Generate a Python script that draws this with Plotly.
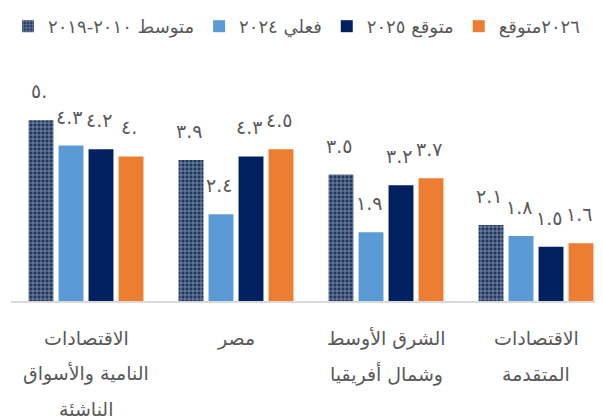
import plotly.graph_objects as go

# Categories (left to right)
categories = ["EMDE", "EGY", "MENA", "ADV"]
category_labels = [
    ["الاقتصادات", "النامية والأسواق", "الناشئة"],
    ["مصر"],
    ["الشرق الأوسط", "وشمال أفريقيا"],
    ["الاقتصادات", "المتقدمة"],
]

series_names = ["متوسط ٢٠١٠-٢٠١٩", "فعلي ٢٠٢٤", "متوقع ٢٠٢٥", "٢٠٢٦متوقع"]

avg_2010_2019 = [5.0, 3.9, 3.5, 2.1]
actual_2024 = [4.3, 2.4, 1.9, 1.8]
forecast_2025 = [4.2, 4.0, 3.2, 1.5]
forecast_2026 = [4.0, 4.2, 3.4, 1.6]

labels_avg = ["٥.", "٣.٩", "٣.٥", "٢.١"]
labels_2024 = ["٤.٣", "٢.٤", "١.٩", "١.٨"]
labels_2025 = ["٤.٢", "٤.٣", "٣.٢", "١.٥"]
labels_2026 = ["٤.", "٤.٥", "٣.٧", "١.٦"]

series_values = [avg_2010_2019, actual_2024, forecast_2025, forecast_2026]
series_labels = [labels_avg, labels_2024, labels_2025, labels_2026]

W, H = 603, 419
M_L, M_R, M_T, M_B = 3, 0, 60, 126
BARGAP = 0.2
BARGROUPGAP = 0.17
Y_MAX = 6.42
TXT = "#595959"
FONT = "DejaVu Sans"

fig = go.Figure()
fig.add_trace(go.Bar(
    x=categories, y=avg_2010_2019, name=series_names[0],
    marker=dict(color="#1F3763", line=dict(width=0),
                pattern=dict(shape="+", fgcolor="white", bgcolor="#1F3763",
                             size=4, solidity=0.35, fillmode="overlay")),
))
fig.add_trace(go.Bar(x=categories, y=actual_2024, name=series_names[1],
                     marker=dict(color="#5B9BD5", line=dict(width=0))))
fig.add_trace(go.Bar(x=categories, y=forecast_2025, name=series_names[2],
                     marker=dict(color="#002060", line=dict(width=0))))
fig.add_trace(go.Bar(x=categories, y=forecast_2026, name=series_names[3],
                     marker=dict(color="#ED7D31", line=dict(width=0))))

plot_w = W - M_L - M_R
cat_w = plot_w / len(categories)
slot = cat_w * (1 - BARGAP) / len(series_values)

annotations = []
for si, (vals, labs) in enumerate(zip(series_values, series_labels)):
    off = (si - (len(series_values) - 1) / 2) * slot
    for ci, cat in enumerate(categories):
        annotations.append(dict(
            x=cat, y=vals[ci], xref="x", yref="y", text=labs[ci],
            showarrow=False, xshift=off - 2, yshift=29, yanchor="middle",
            font=dict(family=FONT, size=19, color=TXT)))

for ci, cat in enumerate(categories):
    for li, line in enumerate(category_labels[ci]):
        annotations.append(dict(
            x=cat, y=0, xref="x", yref="y", text=line, showarrow=False,
            yshift=-(37 + 35.5 * li), yanchor="middle",
            font=dict(family=FONT, size=19, color=TXT)))

fig.update_layout(
    width=W, height=H,
    margin=dict(l=M_L, r=M_R, t=M_T, b=M_B, pad=0),
    paper_bgcolor="white", plot_bgcolor="white",
    barmode="group", bargap=BARGAP, bargroupgap=BARGROUPGAP,
    showlegend=True,
    legend=dict(orientation="h", x=-0.005, xanchor="left",
                y=1 + (M_T - 17) / (H - M_T - M_B), yanchor="middle",
                font=dict(family=FONT, size=18, color=TXT),
                itemwidth=30, tracegroupgap=0, traceorder="normal"),
    xaxis=dict(showticklabels=False, showgrid=False, zeroline=False,
               showline=True, linecolor="#D9D9D9", linewidth=2, ticks=""),
    yaxis=dict(range=[0, Y_MAX], visible=False, showgrid=False),
    annotations=annotations,
    font=dict(family=FONT, color=TXT),
)

fig.write_html("out.html")
